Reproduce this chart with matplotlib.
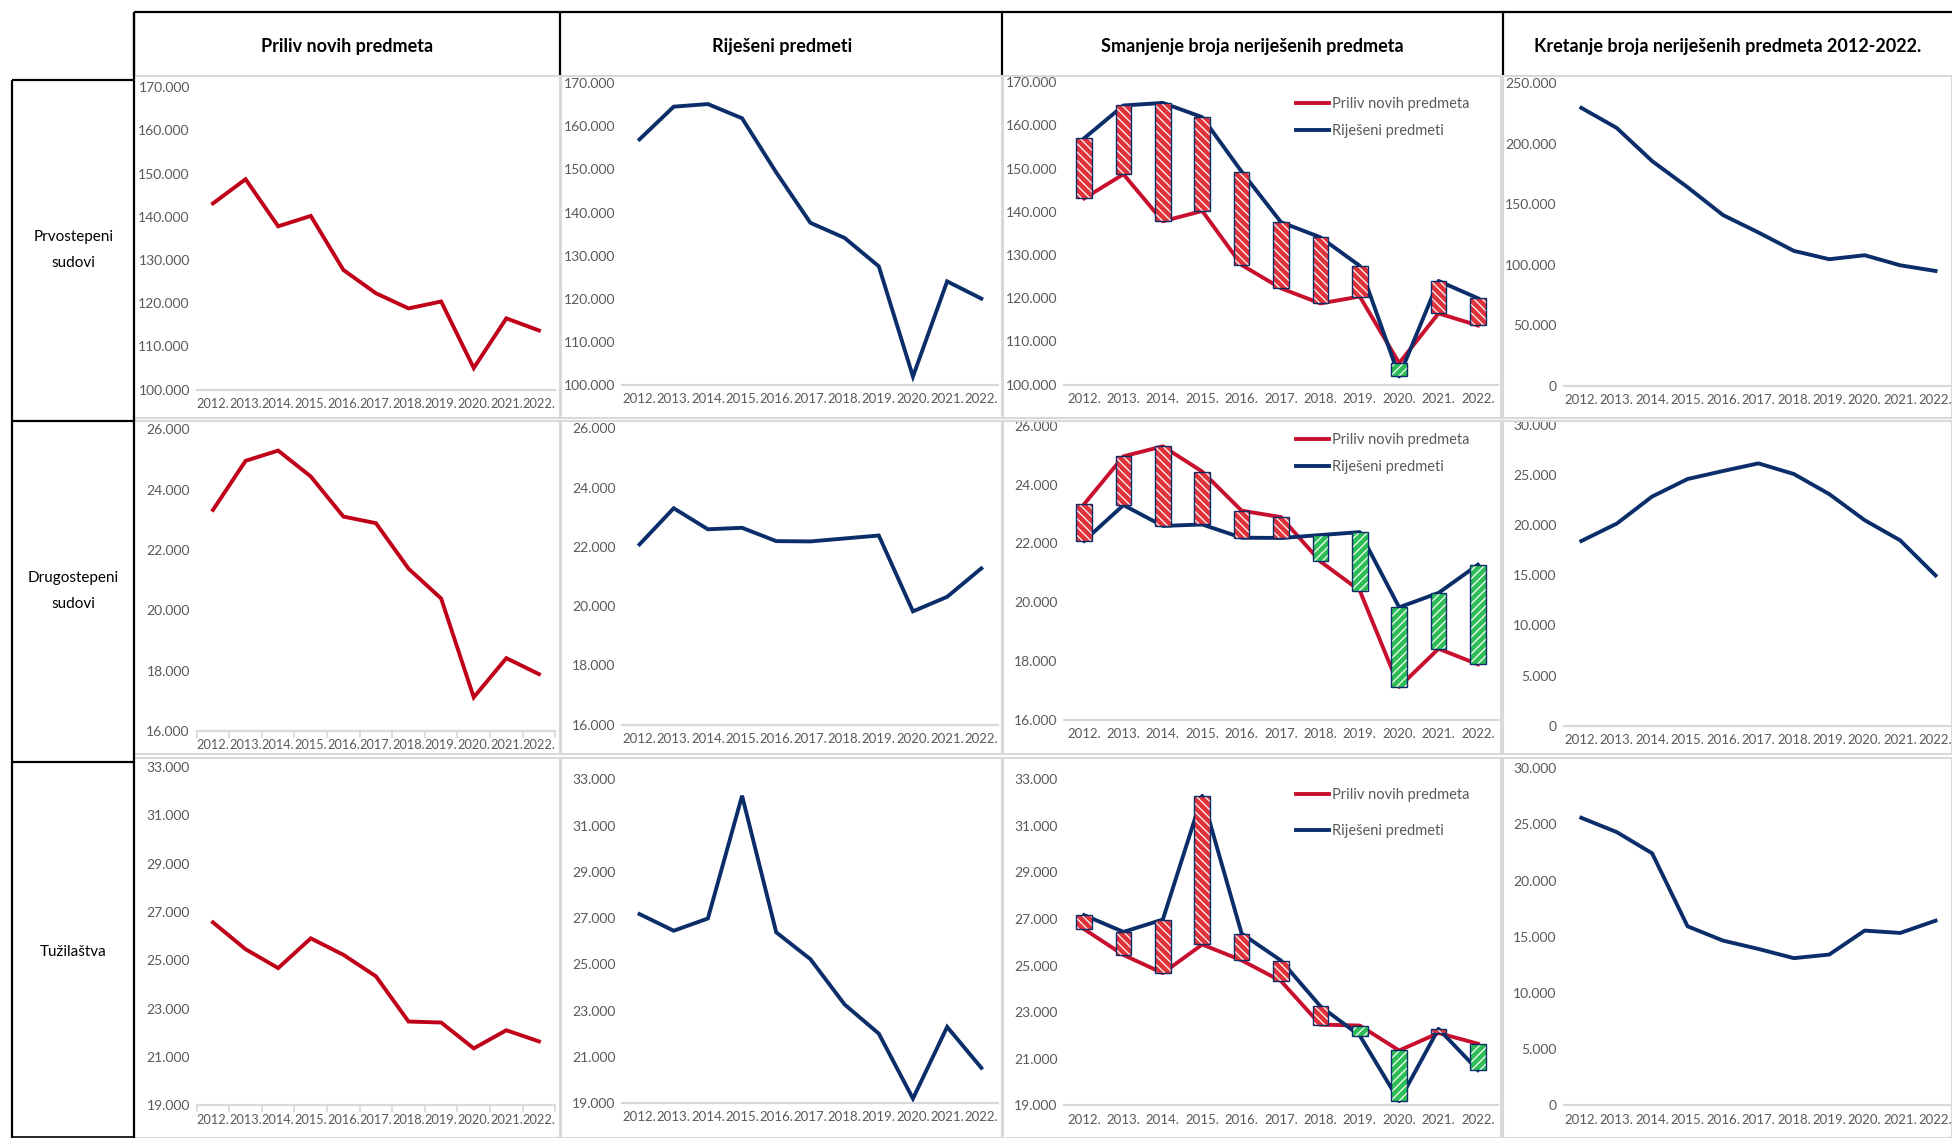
import matplotlib
matplotlib.use('Agg')
import matplotlib.pyplot as plt
from matplotlib.ticker import FuncFormatter, FixedLocator
from matplotlib.lines import Line2D
from matplotlib.patches import Rectangle
import numpy as np

plt.rcParams['font.family'] = ['Lato', 'DejaVu Sans']
plt.rcParams['hatch.linewidth'] = 0.9

# ---------------- data ----------------
years = ['2012.', '2013.', '2014.', '2015.', '2016.', '2017.', '2018.', '2019.', '2020.', '2021.', '2022.']
col_titles = ['Priliv novih predmeta', 'Riješeni predmeti',
              'Smanjenje broja neriješenih predmeta',
              'Kretanje broja neriješenih predmeta 2012-2022.']
row_labels = ['Prvostepeni\nsudovi', 'Drugostepeni\nsudovi', 'Tužilaštva']
legend_labels = ['Priliv novih predmeta', 'Riješeni predmeti']

prv_priliv = [143100, 148700, 137800, 140200, 127700, 122300, 118800, 120400, 105000, 116500, 113700]
prv_rijeseni = [157000, 164600, 165200, 161900, 149300, 137600, 134100, 127500, 101900, 124000, 120000]
prv_nerijeseni = [229800, 213200, 185800, 164200, 141200, 126800, 111600, 104700, 108000, 99700, 95000]

dru_priliv = [23330, 24960, 25300, 24440, 23110, 22890, 21380, 20390, 17110, 18410, 17880]
dru_rijeseni = [22080, 23300, 22590, 22640, 22190, 22180, 22280, 22380, 19820, 20310, 21270]
dru_nerijeseni = [18400, 20130, 22830, 24570, 25370, 26130, 25070, 23070, 20470, 18470, 14970]

tuz_priliv = [26570, 25460, 24680, 25910, 25230, 24340, 22470, 22430, 21360, 22110, 21650]
tuz_rijeseni = [27170, 26450, 26980, 32290, 26380, 25220, 23260, 22000, 19190, 22290, 20520]
tuz_nerijeseni = [25580, 24310, 22420, 15930, 14660, 13920, 13100, 13420, 15550, 15340, 16430]

# up-down bar colouring as in the source: True -> red bar when resolved > inflow
red_when_resolved_higher = [True, False, True]

rows_data = [
    (prv_priliv, prv_rijeseni, prv_nerijeseni),
    (dru_priliv, dru_rijeseni, dru_nerijeseni),
    (tuz_priliv, tuz_rijeseni, tuz_nerijeseni),
]
y_ticks = [
    (np.arange(100000, 170001, 10000), np.arange(0, 250001, 50000)),
    (np.arange(16000, 26001, 2000), np.arange(0, 30001, 5000)),
    (np.arange(19000, 33001, 2000), np.arange(0, 30001, 5000)),
]

# ---------------- styling / layout ----------------
RED1 = '#C00018'
RED3 = '#C8102E'
NAVY = '#0B2E6A'
BAR_RED = '#E0333A'
BAR_GREEN = '#2DBE55'
GRAYTXT = '#595959'
GRIDGRAY = '#D9D9D9'

W, H = 1952, 1138
S = W / 1568.0
fig = plt.figure(figsize=(W / 100, H / 100), dpi=100)
fig.patch.set_facecolor('white')


def fx(x):
    return x * S / W


def fy(y):
    return 1 - y * S / H


def fline(xs, ys, color='black', lw=1.6):
    fig.add_artist(Line2D([fx(v) for v in xs], [fy(v) for v in ys], color=color, lw=lw,
                          transform=fig.transFigure, solid_capstyle='butt'))


# column / row cells (shrunk-reference coordinates)
col_edges = [(108, 450), (451, 805), (806, 1206), (1207, 1568)]
row_edges = [(61, 336), (338, 606), (609, 914)]
# axes extents (x0, x1) per column, (ytop, ybottom) per row & column
ax_x = [(158, 446), (500, 802), (855, 1203), (1256, 1569)]
ax_y = [
    [(70, 313), (67, 309), (66, 309), (67, 310)],
    [(345, 587), (344, 582), (342, 578), (341, 583)],
    [(616, 888), (626, 886), (626, 888), (617, 888)],
]

# chart borders (light gray)
for (ry0, ry1) in row_edges:
    for (cx0, cx1) in col_edges:
        fig.add_artist(Rectangle((fx(cx0), fy(ry1)), fx(cx1) - fx(cx0), fy(ry0) - fy(ry1),
                                 transform=fig.transFigure, fill=False,
                                 edgecolor=GRIDGRAY, lw=1.5))

# header table lines
fline([108, 1568], [10, 10])
for xv in [108, 450, 805, 1207]:
    fline([xv, xv], [10, 60])
fline([108, 108], [10, 914])
# row label boxes
for (ty, by) in [(64, 338), (338, 612), (612, 914)]:
    fline([10, 108], [ty, ty])
    fline([10, 10], [ty, by])
fline([10, 108], [913, 913], lw=1.2)

# header titles
for (cx0, cx1), t in zip(col_edges, col_titles):
    fig.text(fx((cx0 + cx1) / 2), fy(37), t, ha='center', va='center',
             fontsize=13, fontweight='bold', color='black')

# row labels
for yc, lab in zip([201, 475, 765], row_labels):
    fig.text(fx(59), fy(yc), lab, ha='center', va='center', fontsize=11,
             color='black', linespacing=2.1)

fmt = FuncFormatter(lambda v, p: f"{int(round(v)):,}".replace(',', '.'))
xpos = np.arange(len(years))

for r in range(3):
    priliv, rijeseni, nerijeseni = rows_data[r]
    for c in range(4):
        x0, x1 = ax_x[c]
        ytop, ybot = ax_y[r][c]
        ax = fig.add_axes([fx(x0), fy(ybot), fx(x1) - fx(x0), fy(ytop) - fy(ybot)])
        ax.patch.set_alpha(0)
        ticks = y_ticks[r][1] if c == 3 else y_ticks[r][0]
        ax.set_ylim(ticks[0], ticks[-1])
        ax.set_xlim(-0.5, len(years) - 0.5)
        ax.yaxis.set_major_locator(FixedLocator(ticks))
        ax.yaxis.set_major_formatter(fmt)
        ax.set_xticks(xpos)
        ax.set_xticklabels(years)
        for s in ['top', 'right', 'left']:
            ax.spines[s].set_visible(False)
        ax.spines['bottom'].set_color(GRIDGRAY)
        ax.spines['bottom'].set_linewidth(1.6)
        ax.tick_params(axis='y', length=0, pad=5, labelsize=10, labelcolor=GRAYTXT)
        ax.tick_params(axis='x', length=0, pad=6, labelsize=9.5 if c > 0 else 9.2,
                       labelcolor=GRAYTXT)
        if c == 0 and r > 0:
            ax.set_xticks(np.arange(-0.5, len(years), 1), minor=True)
            ax.tick_params(axis='x', which='minor', length=5, color=GRIDGRAY, width=1.2)

        if c == 0:
            ax.plot(xpos, priliv, color=RED1, lw=2.8, solid_joinstyle='miter', clip_on=False)
        elif c == 1:
            ax.plot(xpos, rijeseni, color=NAVY, lw=2.8, solid_joinstyle='miter', clip_on=False)
        elif c == 2:
            ax.plot(xpos, priliv, color=RED3, lw=2.8, label=legend_labels[0], zorder=2,
                    clip_on=False)
            ax.plot(xpos, rijeseni, color=NAVY, lw=2.8, label=legend_labels[1], zorder=2,
                    clip_on=False)
            pr = np.array(priliv)
            rj = np.array(rijeseni)
            diff = rj - pr
            for i in range(len(years)):
                is_red = (diff[i] > 0) == red_when_resolved_higher[r]
                ax.bar(xpos[i], diff[i], bottom=pr[i], width=0.4,
                       facecolor=BAR_RED if is_red else BAR_GREEN, edgecolor='white',
                       hatch='\\\\\\\\' if is_red else '////', linewidth=0, zorder=3)
                ax.bar(xpos[i], diff[i], bottom=pr[i], width=0.4, fill=False,
                       edgecolor=NAVY, linewidth=1.0, zorder=4)
            leg_y = [88, 358, 643][r]
            spacing = [0.9, 0.9, 1.5][r]
            ax.legend(loc='upper left', bbox_to_anchor=(fx(1041), fy(leg_y - 10)),
                      bbox_transform=fig.transFigure, frameon=False, fontsize=10.5,
                      handlelength=2.3, handletextpad=0.2, labelspacing=spacing,
                      labelcolor=GRAYTXT, borderaxespad=0, borderpad=0)
        else:
            ax.plot(xpos, nerijeseni, color=NAVY, lw=2.8, clip_on=False)

fig.savefig('out.png', dpi=100, facecolor='white')
